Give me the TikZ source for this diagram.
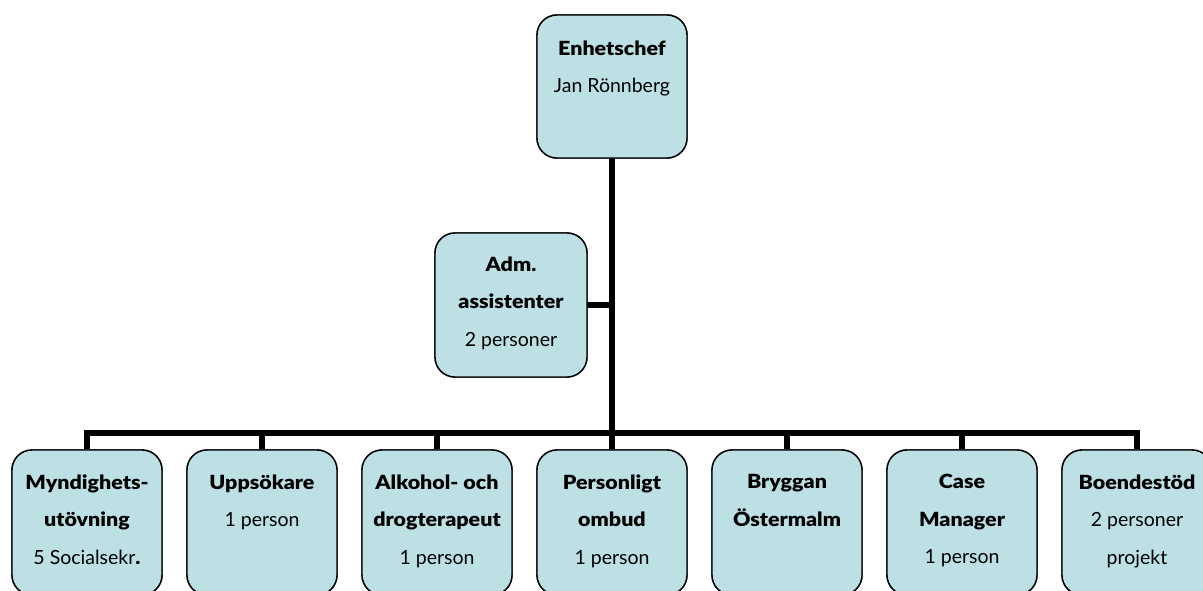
\documentclass[tikz,border=0pt]{standalone}
\usepackage{fontspec}
\setmainfont{Lato}[BoldFont={Lato Black}, BoldFeatures={FakeStretch=1.1}]
\definecolor{boxfill}{RGB}{189,224,229}
\tikzset{
  orgbox/.style={draw=black, line width=1.4pt, fill=boxfill, rounded corners=20pt,
    minimum width=150pt, minimum height=#1, inner sep=0pt},
  orgbox/.default=145pt,
  orgtxt/.style={anchor=north, inner sep=0pt, align=center,
    font=\fontsize{19.5}{37.5}\selectfont},
  link/.style={line width=5.5pt, line cap=rect}
}
\begin{document}
\begin{tikzpicture}[x=1pt,y=-1pt]
\useasboundingbox (0,0) rectangle (1203,590);
\begin{scope}
\clip (0,0) rectangle (1203,590);
% junction points
\coordinate (bar) at (612,433);
\coordinate (admj) at (612,305);
% boxes
\node[orgbox=143pt] (top) at (612,86.5) {};
\node[orgbox=144pt, minimum width=152pt] (adm) at (511,305) {};
\foreach \i/\x in {1/87,2/262,3/437,4/612,5/787,6/962,7/1137}{
  \node[orgbox] (b\i) at (\x,522.5) {};
}
% connectors
\draw[link] (top.south) -- (bar);
\draw[link] (adm.east) -- (admj);
\draw[link] (b1.north |- bar) -- (b7.north |- bar);
\foreach \i in {1,...,7}{
  \draw[link, line cap=butt] (b\i.north |- bar) -- (b\i.north);
}
% redraw boxes over connectors
\node[orgbox=143pt] at (top) {};
\node[orgbox=144pt, minimum width=152pt] at (adm) {};
\foreach \i in {1,...,7}{ \node[orgbox] at (b\i) {}; }
% texts
\node[orgtxt] (ttop) at ([yshift=-26pt]top.north) {\textbf{Enhetschef}\\Jan Rönnberg};
\node[orgtxt] (tadm) at ([yshift=-24pt]adm.north) {\textbf{Adm.}\\\textbf{assistenter}\\2 personer};
\node[orgtxt] (t1) at ([yshift=-25pt]b1.north) {\textbf{Myndighets-}\\\textbf{utövning}\\5 Socialsekr\textbf{.}};
\node[orgtxt] (t2) at ([yshift=-25pt]b2.north) {\textbf{Uppsökare}\\1 person};
\node[orgtxt] (t3) at ([yshift=-25pt]b3.north) {\textbf{Alkohol- och}\\\textbf{drogterapeut}\\1 person};
\node[orgtxt] (t4) at ([yshift=-25pt]b4.north) {\textbf{Personligt}\\\textbf{ombud}\\1 person};
\node[orgtxt] (t5) at ([yshift=-25pt]b5.north) {\textbf{Bryggan}\\\textbf{Östermalm}};
\node[orgtxt] (t6) at ([yshift=-25pt]b6.north) {\textbf{Case}\\\textbf{Manager}\\1 person};
\node[orgtxt] (t7) at ([yshift=-25pt]b7.north) {\textbf{Boendestöd}\\2 personer\\projekt};
\end{scope}
\end{tikzpicture}
\end{document}
